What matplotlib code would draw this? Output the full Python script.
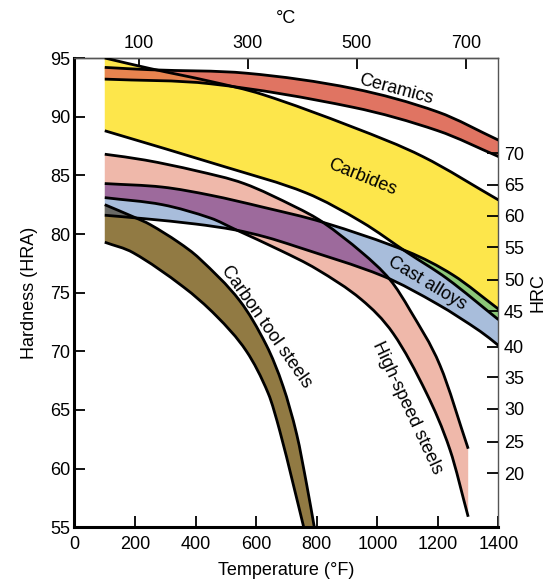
import numpy as np
import matplotlib.pyplot as plt
from matplotlib.path import Path
from matplotlib.patches import PathPatch

plt.rcParams['font.family'] = ['Liberation Sans', 'DejaVu Sans']

# Band edges: temperature (F) and hardness (HRA)
ceramics_top_f = [100, 250, 570, 920, 1200, 1400]
ceramics_top_hra = [94.2, 94.0, 93.7, 92.4, 90.4, 88.0]
ceramics_bot_f = [100, 450, 920, 1200, 1400]
ceramics_bot_hra = [93.2, 92.8, 90.8, 88.8, 86.6]

carbides_top_f = [100, 250, 450, 620, 920, 1150, 1400]
carbides_top_hra = [95.0, 94.1, 93.0, 91.9, 89.1, 86.6, 82.9]
carbides_bot_f = [100, 500, 765, 950, 1100, 1230, 1400]
carbides_bot_hra = [88.8, 85.7, 83.5, 81.0, 78.4, 76.2, 72.7]

cast_top_f = [100, 290, 450, 620, 820, 1100, 1250, 1400]
cast_top_hra = [84.3, 84.0, 83.3, 82.3, 81.0, 78.5, 76.5, 73.6]
cast_bot_f = [100, 233, 400, 530, 630, 730, 1020, 1200, 1340, 1400]
cast_bot_hra = [81.6, 81.3, 80.85, 80.35, 79.75, 78.95, 76.4, 74.0, 71.7, 70.5]

hss_top_f = [100, 233, 400, 560, 730, 820, 950, 1042, 1108, 1207, 1300]
hss_top_hra = [86.8, 86.3, 85.4, 84.3, 82.3, 81.0, 78.4, 76.1, 73.5, 68.8, 61.7]
hss_bot_f = [100, 290, 450, 530, 680, 800, 948, 1053, 1163, 1240, 1300]
hss_bot_hra = [83.1, 82.5, 81.35, 80.4, 78.6, 77.0, 74.4, 71.5, 66.4, 61.6, 55.9]

carbon_top_f = [100, 200, 250, 343, 413, 546, 634, 689, 734, 767, 792]
carbon_top_hra = [82.5, 81.4, 80.8, 79.3, 77.9, 74.3, 70.5, 67.0, 62.9, 58.6, 55.0]
carbon_bot_f = [100, 194, 359, 469, 568, 640, 678, 722, 757]
carbon_bot_hra = [79.3, 78.4, 75.5, 73.0, 70.0, 66.4, 63.2, 58.7, 55.0]

# right axis: HRC values and the HRA level where each one sits
hrc_ticks = [70, 65, 60, 55, 50, 45, 40, 35, 30, 25, 20]
hrc_at_hra = [86.9, 84.2, 81.55, 78.85, 76.1, 73.4, 70.4, 67.8, 65.1, 62.3, 59.6]

c_ticks = [100, 300, 500, 700]


def curve(xs, ys):
    # bezier segments through the read points (hermite style)
    xs = np.asarray(xs, float)
    ys = np.asarray(ys, float)
    n = len(xs)
    m = np.empty(n)
    m[0] = (ys[1] - ys[0]) / (xs[1] - xs[0])
    m[-1] = (ys[-1] - ys[-2]) / (xs[-1] - xs[-2])
    m[1:-1] = (ys[2:] - ys[:-2]) / (xs[2:] - xs[:-2])
    verts = []
    for i in range(n - 1):
        h = xs[i + 1] - xs[i]
        verts += [(xs[i] + h / 3, ys[i] + m[i] * h / 3),
                  (xs[i + 1] - h / 3, ys[i + 1] - m[i + 1] * h / 3),
                  (xs[i + 1], ys[i + 1])]
    return verts


def edge_path(xs, ys):
    v = [(xs[0], ys[0])] + curve(xs, ys)
    codes = [Path.MOVETO] + [Path.CURVE4] * (len(v) - 1)
    return Path(v, codes)


def band(ax, tf, th, bf, bh, color, z=1):
    top = curve(tf, th)
    bot = curve(bf[::-1], bh[::-1])
    v = [(tf[0], th[0])] + top + [(bf[-1], bh[-1])] + bot + [(tf[0], th[0])]
    codes = ([Path.MOVETO] + [Path.CURVE4] * len(top) + [Path.LINETO]
             + [Path.CURVE4] * len(bot) + [Path.CLOSEPOLY])
    p = PathPatch(Path(v, codes), facecolor=color, edgecolor='none', zorder=z)
    ax.add_patch(p)
    return p


def overlap(ax, a, b, color):
    # band a filled again, clipped to band b
    p = PathPatch(a.get_path(), facecolor=color, edgecolor='none', zorder=2)
    ax.add_patch(p)
    p.set_clip_path(b)


fig = plt.figure(figsize=(5.53, 5.83), dpi=100)
ax = fig.add_axes([0.1347, 0.0955, 0.7667, 0.805])

cer = band(ax, ceramics_top_f, ceramics_top_hra, ceramics_bot_f, ceramics_bot_hra, '#e07462')
carb = band(ax, carbides_top_f, carbides_top_hra, carbides_bot_f, carbides_bot_hra, '#fde64b')
cast = band(ax, cast_top_f, cast_top_hra, cast_bot_f, cast_bot_hra, '#a8bddb')
hss = band(ax, hss_top_f, hss_top_hra, hss_bot_f, hss_bot_hra, '#efb8aa')
cts = band(ax, carbon_top_f, carbon_top_hra, carbon_bot_f, carbon_bot_hra, '#917a43')

overlap(ax, cer, carb, '#e8844f')
overlap(ax, hss, cast, '#9d6a9c')
overlap(ax, carb, cast, '#8cc878')
overlap(ax, cts, cast, '#6a6a66')

lines = [(ceramics_top_f, ceramics_top_hra), (ceramics_bot_f, ceramics_bot_hra),
         (carbides_top_f, carbides_top_hra), (carbides_bot_f, carbides_bot_hra),
         (cast_top_f, cast_top_hra), (cast_bot_f, cast_bot_hra),
         (hss_top_f, hss_top_hra), (hss_bot_f, hss_bot_hra),
         (carbon_top_f, carbon_top_hra), (carbon_bot_f, carbon_bot_hra)]
for f, h in lines:
    ax.add_patch(PathPatch(edge_path(f, h), fill=False, edgecolor='black',
                           lw=2.0, zorder=4, capstyle='butt'))

# band names
lab = dict(fontsize=13, ha='center', va='center', zorder=6, rotation_mode='anchor')
ax.text(1062, 92.35, 'Ceramics', rotation=-15, **lab)
ax.text(950, 84.8, 'Carbides', rotation=-22, **lab)
ax.text(1164, 75.8, 'Cast alloys', rotation=-31, **lab)
ax.text(632, 72.1, 'Carbon tool steels', rotation=-55, **lab)
ax.text(1097, 65.2, 'High-speed steels', rotation=-65, **lab)

ax.set_xlim(0, 1400)
ax.set_ylim(55, 95)
ax.set_xticks(range(0, 1401, 200))
ax.set_yticks(range(55, 96, 5))
ax.tick_params(direction='in', length=8, width=1.3, labelsize=13)
ax.tick_params(axis='x', pad=6)
ax.tick_params(axis='y', pad=3)
ax.set_xlabel('Temperature (°F)', fontsize=13, labelpad=7)
ax.set_ylabel('Hardness (HRA)', fontsize=13, labelpad=9)
for s in ['left', 'bottom']:
    ax.spines[s].set_linewidth(2.2)
for s in ['top', 'right']:
    ax.spines[s].set_linewidth(1.0)
    ax.spines[s].set_color('#555555')

# top axis in degrees C
top = ax.secondary_xaxis('top', functions=(lambda f: (f - 32) * 5 / 9,
                                           lambda c: c * 9 / 5 + 32))
top.set_xticks(c_ticks)
top.tick_params(direction='in', length=8, width=1.3, labelsize=13, pad=4)
top.spines['top'].set_linewidth(1.0)
top.spines['top'].set_color('#555555')
top.set_xlabel('°C', fontsize=13, labelpad=9)

# right axis in HRC
right = ax.twinx()
right.set_ylim(55, 95)
right.set_yticks(hrc_at_hra)
right.set_yticklabels([str(v) for v in hrc_ticks])
right.tick_params(direction='in', length=8, width=1.3, labelsize=13, pad=4)
right.set_ylabel('HRC', fontsize=13, labelpad=4)
for s in right.spines.values():
    s.set_visible(False)

fig.savefig('out.png', dpi=100)
